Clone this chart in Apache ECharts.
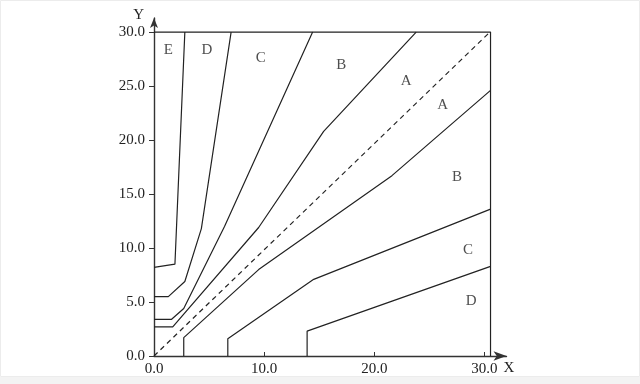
<!DOCTYPE html>
<html>
<head>
<meta charset="utf-8">
<style>html,body{margin:0;padding:0;background:#fff;}#c{width:640px;height:384px;}</style>
<script src="https://cdn.jsdelivr.net/npm/echarts@6/dist/echarts.min.js"></script>
</head>
<body>
<div id="c"></div>
<script>
// ---- data ----
const xTicks = [0, 10, 20, 30];
const yTicks = [0, 5, 10, 15, 20, 25, 30];
const lineED = [[0, 8.2], [1.9, 8.5], [2.8, 30]];
const lineDC = [[0, 5.5], [1.3, 5.5], [2.8, 6.9], [4.3, 11.8], [7.0, 30]];
const lineCB = [[0, 3.4], [1.6, 3.4], [2.7, 4.4], [6.4, 12.0], [14.4, 30]];
const lineBA = [[0, 2.7], [1.7, 2.7], [9.5, 11.9], [15.4, 20.8], [23.8, 30]];
const diagonal = [[0, 0], [30.4, 29.9]];
const lineAB = [[2.7, 0], [2.7, 1.7], [9.5, 8.0], [21.6, 16.7], [30.55, 24.6]];
const lineBC = [[6.7, 0], [6.7, 1.6], [14.5, 7.1], [30.55, 13.6]];
const lineCD = [[13.9, 0], [13.9, 2.3], [30.55, 8.3]];
const frame = [[0, 30], [30.55, 30], [30.55, 0]];
const regionNames = ['E', 'D', 'C', 'B', 'A', 'A', 'B', 'C', 'D'];
const regionX = [1.3, 4.8, 9.7, 17.0, 22.9, 26.2, 27.5, 28.5, 28.8];
const regionY = [28.3, 28.3, 27.6, 26.9, 25.5, 23.2, 16.6, 9.8, 5.1];

const FONT = 'Liberation Serif';
const INK = '#222';

const chart = echarts.init(document.getElementById('c'), null, {renderer: 'canvas'});

function solid(data) {
  return {type: 'line', data: data, symbol: 'none', silent: true, animation: false,
    lineStyle: {color: INK, width: 1.2}, z: 3};
}

const series = [lineED, lineDC, lineCB, lineBA, lineAB, lineBC, lineCD, frame].map(solid);
series.push({type: 'line', data: diagonal, symbol: 'none', silent: true, animation: false,
  lineStyle: {color: INK, width: 1.2, type: [5, 4]}, z: 3});
series.push({type: 'scatter', symbolSize: 0, silent: true, animation: false,
  data: regionNames.map((n, i) => ({name: n, value: [regionX[i], regionY[i]]})),
  label: {show: true, position: 'inside', formatter: p => p.name,
    fontFamily: FONT, fontSize: 15, color: INK}});

chart.setOption({
  backgroundColor: '#fff',
  animation: false,
  grid: {left: 154, right: 133.5, top: 18, bottom: 28},
  xAxis: {
    type: 'value', min: 0, max: 32,
    name: 'X', nameLocation: 'end', nameGap: 1.5,
    nameTextStyle: {fontFamily: FONT, fontSize: 15, color: INK, align: 'center', verticalAlign: 'top', padding: [5, 0, 0, 0]},
    axisLine: {show: true, symbol: ['none', 'arrow'], symbolSize: [7, 13], lineStyle: {color: '#333', width: 1.4}},
    axisTick: {show: true, inside: true, length: 4, customValues: xTicks, lineStyle: {color: '#333'}},
    axisLabel: {customValues: xTicks, formatter: v => v.toFixed(1), fontFamily: FONT, fontSize: 15, color: INK, margin: 6},
    splitLine: {show: false}
  },
  yAxis: {
    type: 'value', min: 0, max: 31.3,
    name: 'Y', nameLocation: 'end', nameGap: 3,
    nameTextStyle: {fontFamily: FONT, fontSize: 15, color: INK, align: 'right', verticalAlign: 'middle', padding: [0, 10, 0, 0]},
    axisLine: {show: true, symbol: ['none', 'arrow'], symbolSize: [6, 10], lineStyle: {color: '#333', width: 1.4}},
    axisTick: {show: true, inside: false, length: 5, customValues: yTicks, lineStyle: {color: '#333'}},
    axisLabel: {customValues: yTicks, formatter: v => v.toFixed(1), fontFamily: FONT, fontSize: 15, color: INK, margin: 9},
    splitLine: {show: false}
  },
  graphic: [
    {type: 'rect', shape: {x: 0, y: 377, width: 640, height: 7}, style: {fill: '#f3f3f3'}, silent: true},
    {type: 'rect', shape: {x: 0.5, y: 0.5, width: 639, height: 376}, style: {fill: 'none', stroke: '#ececec', lineWidth: 1}, silent: true}
  ],
  series: series
});
</script>
</body>
</html>
